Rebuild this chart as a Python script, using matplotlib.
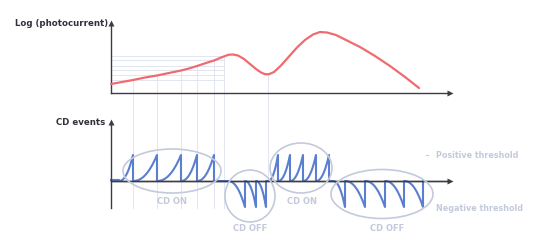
import matplotlib.pyplot as plt
import numpy as np
from matplotlib.patches import Ellipse

# picture is a schematic: units are chart pixels, y grows downward
top_base = 93      # photocurrent axis
bot_base = 181     # CD events axis
x_axis_start = 111
x_axis_end = 452

# log photocurrent (time, height above axis)
photo_t = [111, 122, 133, 145, 157, 169, 181, 189, 197, 206, 214, 220, 225, 229,
           233, 238, 244, 250, 256, 261, 265, 269, 274, 281, 289, 297, 305, 313, 320,
           327, 336, 347, 360, 375, 390, 405, 419]
photo_log = [9, 11, 13, 15.5, 17.5, 20, 22.5, 24.5, 27, 30, 32.5, 35, 37, 38.3,
             38.5, 37.5, 34, 29, 24, 20.5, 18.8, 18.8, 21, 27.5, 36.5, 45.5, 53, 58.5, 61,
             60.5, 58, 52.5, 46, 37, 27, 16, 5]

# CD event times (threshold crossings)
on_start_1, on_spikes_1 = 119, [133, 157, 181, 197, 214]
off_start_1, off_spikes_1 = 228, [245, 256, 266]
on_start_2, on_spikes_2 = 268, [278, 290, 303, 316, 329]
off_start_2, off_spikes_2 = 333, [345, 365, 385, 404, 423]
threshold = 26

# crossing levels drawn as guides back to the photocurrent axis
guide_levels = [13, 17.5, 22.5, 27, 32.5, 37]
guide_times = [133, 157, 181, 197, 214, 224]
dip_time, dip_level = 268, 18.8

labels = [("CD ON", 172, 201), ("CD OFF", 250, 228), ("CD ON", 302, 201), ("CD OFF", 387, 228)]
ellipses = [(172, 171, 98, 44), (250, 196, 50, 52), (301, 168, 62, 50), (382, 194, 102, 49)]

red = "#f06b70"
blue = "#5a7fd0"
axis_col = "#3a3d45"
guide_col = "#dde2ee"
soft = "#c3cadb"


def events(start, spikes, sign):
    xs, ys = [], []
    a = start
    for b in spikes:
        t = np.linspace(0, 1, 30)
        xs += list(a + (b - a) * t) + [b]
        ys += list(bot_base - sign * threshold * t ** 2.2) + [bot_base]
        a = b
    return xs, ys


fig = plt.figure(figsize=(5.4, 2.45), dpi=100)
ax = fig.add_axes([0, 0, 1, 1])
ax.set_xlim(0, 540)
ax.set_ylim(245, 0)
ax.axis("off")

# guides
for lv in guide_levels:
    ax.plot([x_axis_start, guide_times[-1]], [top_base - lv, top_base - lv], color=guide_col, lw=0.6, zorder=1)
for t, lv in zip(guide_times, guide_levels):
    ax.plot([t, t], [top_base - lv, bot_base + threshold + 1], color=guide_col, lw=0.6, zorder=1)
ax.plot([dip_time, dip_time], [top_base - dip_level, bot_base], color=guide_col, lw=0.6, zorder=1)

# axes with arrows
for base, top, bottom in [(top_base, 21, top_base), (bot_base, 120, bot_base + threshold + 1)]:
    ax.plot([x_axis_start, x_axis_start], [bottom, top + 3], color=axis_col, lw=1.0, zorder=3)
    ax.plot(x_axis_start, top + 2, marker="^", ms=4.5, color=axis_col, mec="none", zorder=3)
    ax.plot([x_axis_start, x_axis_end - 3], [base, base], color=axis_col, lw=1.0, zorder=3)
    ax.plot(x_axis_end - 2, base, marker=">", ms=4.5, color=axis_col, mec="none", zorder=3)

# photocurrent
ax.plot(photo_t, [top_base - v for v in photo_log], color=red, lw=1.6,
        solid_capstyle="round", solid_joinstyle="round", zorder=4)

# CD events
seg_x = [x_axis_start, on_start_1]
seg_y = [bot_base - 1, bot_base - 1]
for start, spikes, sign in [(on_start_1, on_spikes_1, 1), (off_start_1, off_spikes_1, -1),
                            (on_start_2, on_spikes_2, 1), (off_start_2, off_spikes_2, -1)]:
    xs, ys = events(start, spikes, sign)
    seg_x += xs
    seg_y += ys
ax.plot(seg_x, seg_y, color=blue, lw=1.5, zorder=2, solid_joinstyle="round")
ax.plot([x_axis_start, x_axis_end - 3], [bot_base, bot_base], color=axis_col, lw=1.0, zorder=3)

for cx, cy, w, h in ellipses:
    ax.add_patch(Ellipse((cx, cy), w, h, fill=False, ec=soft, lw=1.2, zorder=5))

for txt, x, y in labels:
    ax.text(x, y, txt, color=soft, fontsize=6, fontweight="bold", ha="center", va="center")

ax.text(108, 24, "Log (photocurrent)", color="#2f323a", fontsize=6.2, fontweight="bold", ha="right", va="center")
ax.text(105, 122, "CD events", color="#2f323a", fontsize=6.2, fontweight="bold", ha="right", va="center")

ax.plot([426, 428], [bot_base - threshold, bot_base - threshold], color=soft, lw=0.8)
ax.text(436, bot_base - threshold, "Positive threshold", color=soft, fontsize=5.8, fontweight="bold", va="center")
ax.text(436, bot_base + threshold + 1, "Negative threshold", color=soft, fontsize=5.8, fontweight="bold", va="center")

fig.savefig("out.png", dpi=100, facecolor="white")
